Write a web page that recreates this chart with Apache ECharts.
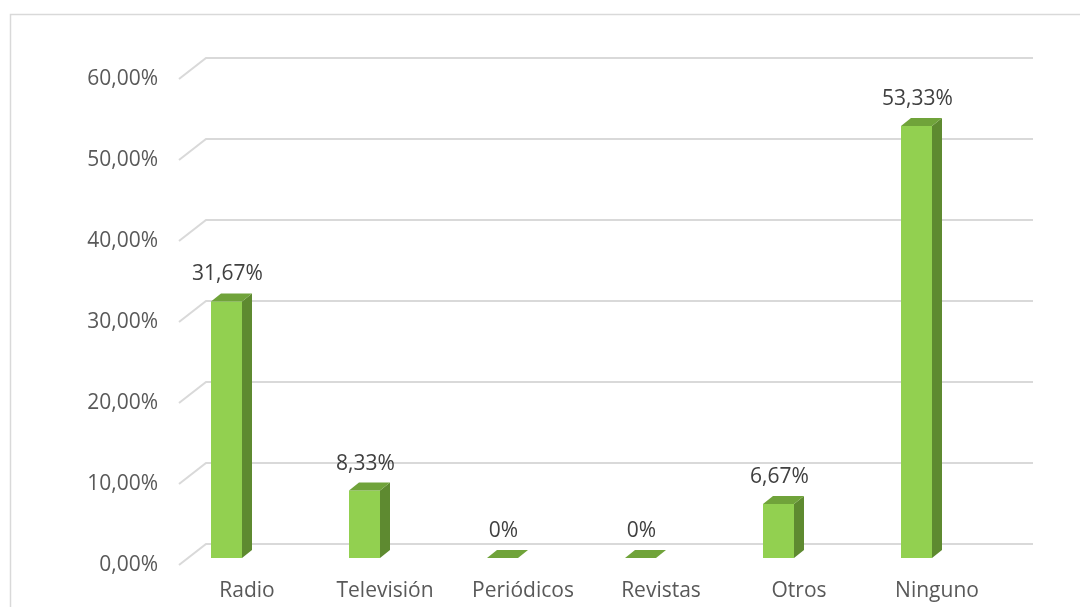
<!DOCTYPE html>
<html>
<head>
<meta charset="utf-8">
<script src="https://cdn.jsdelivr.net/npm/echarts@6/dist/echarts.min.js"></script>
<style>html,body{margin:0;padding:0;background:#fff}#c{width:1080px;height:607px}</style>
</head>
<body>
<div id="c"></div>
<script>
const categories = ['Radio', 'Televisión', 'Periódicos', 'Revistas', 'Otros', 'Ninguno'];
const values = [31.67, 8.33, 0, 0, 6.67, 53.33];
const gridValues = [0, 10, 20, 30, 40, 50, 60];

const FONT = '"Open Sans", "Liberation Sans", sans-serif';
const FRONT = '#92d050', SIDE = '#5e8a30', TOP = '#70a33a';

function fmtLabel(v) {
  return v === 0 ? '0%' : v.toFixed(2).replace('.', ',') + '%';
}

const chart = echarts.init(document.getElementById('c'), null, {renderer: 'canvas'});
chart.setOption({
  backgroundColor: '#fff',
  animation: false,
  graphic: [{
    type: 'rect', left: 8, top: 12, silent: true,
    shape: {x: 0, y: 0, width: 1200, height: 800},
    style: {fill: 'none', stroke: '#d9d9d9', lineWidth: 1.5}
  }],
  grid: {left: 178, right: 74, top: 79, bottom: 42, containLabel: false},
  xAxis: {
    type: 'category', data: categories,
    axisLine: {show: false}, axisTick: {show: false}, splitLine: {show: false},
    axisLabel: {color: '#595959', fontSize: 21, fontFamily: FONT, margin: 16}
  },
  yAxis: {
    type: 'value', min: 0, max: 60, interval: 10,
    axisLine: {show: false}, axisTick: {show: false}, splitLine: {show: false},
    axisLabel: {
      color: '#595959', fontSize: 21, fontFamily: FONT, margin: 20,
      formatter: v => v.toFixed(2).replace('.', ',') + '%'
    }
  },
  series: [{
    type: 'custom', silent: true, z: 1,
    data: gridValues.map(v => [0, v]),
    renderItem: function (params, api) {
      const cs = params.coordSys;
      const y = api.coord([0, api.value(1)])[1];
      return {
        type: 'polyline',
        shape: {points: [[cs.x + 1, y], [cs.x + 28, y - 21], [cs.x + cs.width + 27, y - 21]]},
        style: {stroke: '#d9d9d9', lineWidth: 2, fill: 'none'}
      };
    }
  }, {
    type: 'custom', silent: true, z: 2,
    data: values.map((v, i) => [i, v]),
    renderItem: function (params, api) {
      const i = api.value(0), v = api.value(1);
      const base = api.coord([i, 0]);
      const cx = base[0];
      const y0 = base[1] - 7;
      const yt = api.coord([i, v])[1] - 7;
      const L = cx - 36, R = cx - 5, dx = 10, dy = 8;
      const children = [];
      if (y0 - yt > 0.5) {
        children.push({type: 'rect', shape: {x: L, y: yt, width: R - L, height: y0 - yt}, style: {fill: FRONT}});
        children.push({type: 'polygon', shape: {points: [[R, yt], [R + dx, yt - dy], [R + dx, y0 - dy], [R, y0]]}, style: {fill: SIDE}});
      }
      children.push({type: 'polygon', shape: {points: [[L, yt], [L + dx, yt - dy], [R + dx, yt - dy], [R, yt]]}, style: {fill: TOP}});
      children.push({
        type: 'text',
        style: {
          text: fmtLabel(v), x: (L + R) / 2 + 1, y: yt - 27,
          align: 'center', verticalAlign: 'middle',
          fill: '#404040', fontSize: 21, fontFamily: FONT
        }
      });
      return {type: 'group', children: children};
    }
  }]
});
</script>
</body>
</html>
